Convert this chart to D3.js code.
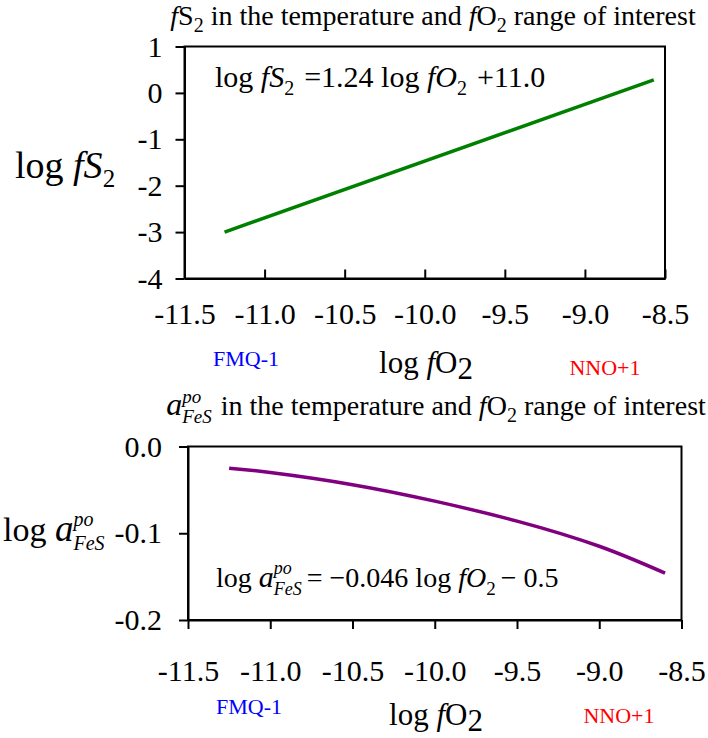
<!DOCTYPE html>
<html>
<head>
<meta charset="utf-8">
<script src="https://cdn.jsdelivr.net/npm/d3@7"></script>
<style>
  body { margin: 0; background: #fff; }
  svg text { font-family: "Liberation Serif", "Times New Roman", serif; white-space: pre; }
</style>
</head>
<body>
<div id="chart"></div>
<script>
// x axis shared by both panels (log fO2)
const xTicks = [-11.5, -11.0, -10.5, -10.0, -9.5, -9.0, -8.5];
const xTickLabels = ["-11.5", "-11.0", "-10.5", "-10.0", "-9.5", "-9.0", "-8.5"];

// top panel: log fS2
const fs2Ticks = [1, 0, -1, -2, -3, -4];
const fs2TickLabels = ["1", "0", "-1", "-2", "-3", "-4"];
const fs2LogFO2 = [-11.25, -8.57];
const fs2Values = [-3.0, 0.28];

// bottom panel: log a(FeS)
const aTicks = [0.0, -0.1, -0.2];
const aTickLabels = ["0.0", "-0.1", "-0.2"];
const aLogFO2 = [-11.25, -11.0, -10.5, -10.0, -9.5, -9.0, -8.6];
const aValues = [-0.025, -0.030, -0.044, -0.063, -0.086, -0.115, -0.146];

const width = 708, height = 738;
const serif = '"Liberation Serif", "Times New Roman", serif';

const svg = d3.select("#chart")
  .append("svg")
  .attr("width", width)
  .attr("height", height);

// draw a run of text pieces (italic, sub/superscripts) left to right
function richText(parent, x, y, parts, anchor) {
  const g = parent.append("g");
  let cx = 0, stackW = 0;
  parts.forEach(p => {
    const t = g.append("text")
      .attr("xml:space", "preserve")
      .attr("x", cx)
      .attr("y", p.dy || 0)
      .style("font-size", p.fs + "px")
      .style("font-style", p.it ? "italic" : "normal")
      .style("fill", p.color || "#000")
      .text(p.t);
    const w = t.node().getComputedTextLength() + (p.pad || 0);
    if (p.stack) {
      stackW = Math.max(stackW, w);
    } else {
      cx += Math.max(w, stackW);
      stackW = 0;
    }
  });
  let off = 0;
  if (anchor === "middle") off = -cx / 2;
  if (anchor === "end") off = -cx;
  g.attr("transform", `translate(${x + off},${y})`);
  return g;
}

function axisStyle(g) {
  g.attr("font-family", serif).attr("font-size", 30);
  g.selectAll("path, line").attr("stroke", "#000").attr("stroke-width", 2);
  g.selectAll("text").attr("fill", "#000").style("font-size", "30px");
}

// ---------- top panel ----------
const topBox = { left: 184.5, right: 665, top: 46.5, bottom: 278.5 };

const xTop = d3.scaleLinear().domain([-11.5, -8.5]).range([topBox.left, topBox.right]);
const yTop = d3.scaleLinear().domain([-4, 1]).range([topBox.bottom, topBox.top]);

svg.append("rect")
  .attr("x", topBox.left).attr("y", topBox.top)
  .attr("width", topBox.right - topBox.left).attr("height", topBox.bottom - topBox.top)
  .attr("fill", "none").attr("stroke", "#000").attr("stroke-width", 2);

const gxTop = svg.append("g")
  .attr("transform", `translate(0,${topBox.bottom})`)
  .call(d3.axisBottom(xTop).tickValues(xTicks).tickSizeInner(-9).tickSizeOuter(0)
    .tickPadding(24).tickFormat((d, i) => xTickLabels[i]));
axisStyle(gxTop);

const gyTop = svg.append("g")
  .attr("transform", `translate(${topBox.left},0)`)
  .call(d3.axisLeft(yTop).tickValues(fs2Ticks).tickSizeInner(9).tickSizeOuter(0)
    .tickPadding(13).tickFormat((d, i) => fs2TickLabels[i]));
axisStyle(gyTop);

svg.append("path")
  .datum(fs2LogFO2.map((x, i) => [x, fs2Values[i]]))
  .attr("fill", "none")
  .attr("stroke", "#008000")
  .attr("stroke-width", 3.5)
  .attr("d", d3.line().x(d => xTop(d[0])).y(d => yTop(d[1])));

// title
richText(svg, 433, 25, [
  { t: "f", it: true, fs: 28 },
  { t: "S", fs: 28 },
  { t: "2", fs: 20, dy: 7 },
  { t: " in the temperature and ", fs: 28 },
  { t: "f", it: true, fs: 28 },
  { t: "O", fs: 28 },
  { t: "2", fs: 20, dy: 7 },
  { t: " range of interest", fs: 28 }
], "middle");

// equation
richText(svg, 215, 87, [
  { t: "log ", fs: 30 },
  { t: "fS", it: true, fs: 30 },
  { t: "2", fs: 20, dy: 8, pad: 10 },
  { t: "=1.24 log ", fs: 30 },
  { t: "fO", it: true, fs: 30 },
  { t: "2", fs: 20, dy: 8, pad: 10 },
  { t: "+11.0", fs: 30 }
]);

// y label
richText(svg, 15, 178, [
  { t: "log ", fs: 38 },
  { t: "fS", it: true, fs: 38 },
  { t: "2", fs: 25, dy: 9 }
]);

// x label and markers
richText(svg, 426, 373, [
  { t: "log ", fs: 31 },
  { t: "f", it: true, fs: 31 },
  { t: "O", fs: 31 },
  { t: "2", fs: 31, dy: 6 }
], "middle");
richText(svg, 246, 366, [{ t: "FMQ-1", fs: 22, color: "#0000ff" }], "middle");
richText(svg, 605, 375, [{ t: "NNO+1", fs: 22, color: "#ff0000" }], "middle");

// ---------- bottom panel ----------
const botBox = { left: 188, right: 681.5, top: 446.5, bottom: 620 };

const xBot = d3.scaleLinear().domain([-11.5, -8.5]).range([botBox.left, botBox.right]);
const yBot = d3.scaleLinear().domain([-0.2, 0.0]).range([botBox.bottom, botBox.top]);

svg.append("rect")
  .attr("x", botBox.left).attr("y", botBox.top)
  .attr("width", botBox.right - botBox.left).attr("height", botBox.bottom - botBox.top)
  .attr("fill", "none").attr("stroke", "#000").attr("stroke-width", 2);

const gxBot = svg.append("g")
  .attr("transform", `translate(0,${botBox.bottom})`)
  .call(d3.axisBottom(xBot).tickValues(xTicks).tickSizeInner(9).tickSizeOuter(0)
    .tickPadding(31).tickFormat((d, i) => xTickLabels[i]));
axisStyle(gxBot);

const gyBot = svg.append("g")
  .attr("transform", `translate(${botBox.left},0)`)
  .call(d3.axisLeft(yBot).tickValues(aTicks).tickSizeInner(9).tickSizeOuter(0)
    .tickPadding(17).tickFormat((d, i) => aTickLabels[i]));
axisStyle(gyBot);

svg.append("path")
  .datum(aLogFO2.map((x, i) => [x, aValues[i]]))
  .attr("fill", "none")
  .attr("stroke", "#800080")
  .attr("stroke-width", 3.5)
  .attr("d", d3.line().curve(d3.curveNatural).x(d => xBot(d[0])).y(d => yBot(d[1])));

// title
richText(svg, 436, 415, [
  { t: "a", it: true, fs: 32 },
  { t: "po", it: true, fs: 19, dy: -12, stack: true },
  { t: "FeS", it: true, fs: 19, dy: 8, pad: 2 },
  { t: " in the temperature and ", fs: 28 },
  { t: "f", it: true, fs: 28 },
  { t: "O", fs: 28 },
  { t: "2", fs: 20, dy: 7 },
  { t: " range of interest", fs: 28 }
], "middle");

// equation
richText(svg, 216, 587, [
  { t: "log ", fs: 28 },
  { t: "a", it: true, fs: 30 },
  { t: "po", it: true, fs: 18, dy: -13, stack: true },
  { t: "FeS", it: true, fs: 18, dy: 8, pad: 5 },
  { t: "= \u22120.046 log ", fs: 28 },
  { t: "fO", it: true, fs: 28 },
  { t: "2", fs: 19, dy: 8, pad: 5 },
  { t: "\u2212 0.5", fs: 28 }
]);

// y label
richText(svg, 3, 541, [
  { t: "log ", fs: 34 },
  { t: "a", it: true, fs: 37 },
  { t: "po", it: true, fs: 20, dy: -15, stack: true },
  { t: "FeS", it: true, fs: 20, dy: 9 }
]);

// x label and markers
richText(svg, 436, 725, [
  { t: "log ", fs: 31 },
  { t: "f", it: true, fs: 31 },
  { t: "O", fs: 31 },
  { t: "2", fs: 31, dy: 6 }
], "middle");
richText(svg, 249, 714, [{ t: "FMQ-1", fs: 22, color: "#0000ff" }], "middle");
richText(svg, 619, 723, [{ t: "NNO+1", fs: 22, color: "#ff0000" }], "middle");
</script>
</body>
</html>
